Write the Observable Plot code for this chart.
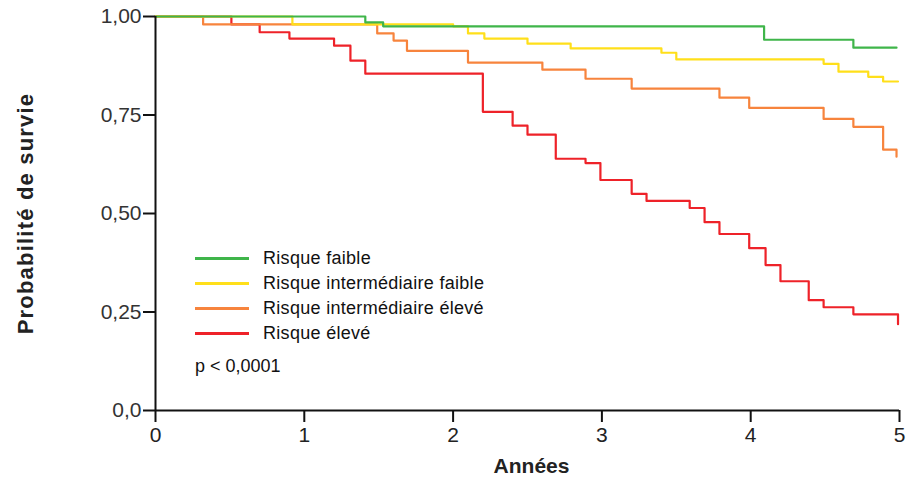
<!DOCTYPE html>
<html>
<head>
<meta charset="utf-8">
<script src="https://cdn.jsdelivr.net/npm/d3@7"></script>
<script src="https://cdn.jsdelivr.net/npm/@observablehq/plot@0.6"></script>
<style>
  html, body { margin: 0; padding: 0; background: #fff; }
  #wrap { position: relative; width: 913px; height: 488px; font-family: "Liberation Sans", Arial, sans-serif; }
  #legend { position: absolute; left: 195px; top: 246px; font-size: 18px; letter-spacing: 0.3px; color: #111; }
  .row { display: flex; align-items: center; height: 25px; }
  .sw { width: 54px; height: 3px; margin-right: 14px; }
  #pval { margin-top: 10px; letter-spacing: 0; }
</style>
</head>
<body>
<div id="wrap"></div>
<script>
// Kaplan–Meier estimates (years, survival probability)
const seriesNames = ["Risque faible", "Risque intermédiaire faible", "Risque intermédiaire élevé", "Risque élevé"];
const seriesColors = ["#3fb54a", "#ffdf1a", "#f7843d", "#ee2229"];

const tFaible = [0, 1.41, 1.53, 4.09, 4.69, 4.98];
const sFaible = [1.0, 0.985, 0.975, 0.941, 0.921, 0.921];

const tIntFaible = [0, 0.92, 2.00, 2.10, 2.21, 2.50, 2.79, 3.40, 3.50, 4.49, 4.59, 4.79, 4.89, 4.99];
const sIntFaible = [1.0, 0.980, 0.975, 0.957, 0.944, 0.931, 0.919, 0.908, 0.891, 0.880, 0.860, 0.847, 0.835, 0.835];

const tIntEleve = [0, 0.32, 1.49, 1.60, 1.69, 2.10, 2.60, 2.89, 3.20, 3.79, 3.99, 4.49, 4.69, 4.89, 4.98];
const sIntEleve = [1.0, 0.980, 0.957, 0.939, 0.913, 0.883, 0.865, 0.842, 0.817, 0.794, 0.768, 0.740, 0.720, 0.662, 0.644];

const tEleve = [0, 0.51, 0.70, 0.90, 1.20, 1.31, 1.41, 2.20, 2.40, 2.50, 2.69, 2.89, 2.99, 3.20, 3.30, 3.59, 3.69, 3.79, 3.99, 4.10, 4.20, 4.39, 4.49, 4.69, 4.99];
const sEleve = [1.0, 0.980, 0.960, 0.944, 0.926, 0.888, 0.855, 0.758, 0.723, 0.700, 0.639, 0.628, 0.585, 0.550, 0.532, 0.514, 0.478, 0.448, 0.412, 0.369, 0.328, 0.280, 0.262, 0.244, 0.219];

const xTicks = [0, 1, 2, 3, 4, 5];
const xTickLabels = ["0", "1", "2", "3", "4", "5"];
const yTicks = [0, 0.25, 0.5, 0.75, 1];
const yTickLabels = ["0,0", "0,25", "0,50", "0,75", "1,00"];

const xTitle = "Années";
const yTitle = "Probabilité de survie";
const pText = "p < 0,0001";

const allT = [tFaible, tIntFaible, tIntEleve, tEleve];
const allS = [sFaible, sIntFaible, sIntEleve, sEleve];
const rows = [];
// draw order: élevé first, faible last (on top)
[3, 2, 1, 0].forEach(k => {
  allT[k].forEach((t, i) => rows.push({t, s: allS[k][i], g: seriesNames[k]}));
});

const chart = Plot.plot({
  width: 913,
  height: 488,
  marginLeft: 155,
  marginRight: 14,
  marginTop: 16,
  marginBottom: 78,
  style: { fontFamily: "'Liberation Sans', Arial, sans-serif", fontSize: "21px", color: "#222", background: "#fff" },
  x: { domain: [0, 5] },
  y: { domain: [0, 1] },
  color: { domain: seriesNames, range: seriesColors },
  marks: [
    Plot.line(rows, { x: "t", y: "s", z: "g", stroke: "g", curve: "step-after", strokeWidth: 2.2 }),
    Plot.ruleX([0], { stroke: "#111", strokeWidth: 2 }),
    Plot.ruleY([0], { stroke: "#111", strokeWidth: 2 }),
    Plot.axisX({ ticks: xTicks, tickFormat: (d, i) => xTickLabels[i], tickSize: 12, tickPadding: 5, strokeWidth: 2, stroke: "#111", label: null, fill: "#222", fontSize: 21 }),
    Plot.axisY({ ticks: yTicks, tickFormat: (d, i) => yTickLabels[i], tickSize: 12, tickPadding: 2, strokeWidth: 2, stroke: "#111", label: null, fill: "#333", fontSize: 21 }),
    Plot.text([yTitle], { frameAnchor: "left", textAnchor: "middle", rotate: -90, dx: -130, fontWeight: "bold", fontSize: 22, fill: "#222", className: "ytitle" }),
    Plot.text([xTitle], { frameAnchor: "bottom", textAnchor: "middle", dx: 4, dy: 62, fontWeight: "bold", fontSize: 21, fill: "#222" })
  ]
});

d3.select(chart).selectAll(".ytitle text").style("letter-spacing", "1.2px");

const wrap = document.getElementById("wrap");
wrap.appendChild(chart);

const legend = document.createElement("div");
legend.id = "legend";
seriesNames.forEach((name, i) => {
  const row = document.createElement("div");
  row.className = "row";
  const sw = document.createElement("div");
  sw.className = "sw";
  sw.style.background = seriesColors[i];
  const lab = document.createElement("span");
  lab.textContent = name;
  row.appendChild(sw);
  row.appendChild(lab);
  legend.appendChild(row);
});
const p = document.createElement("div");
p.id = "pval";
p.textContent = pText;
legend.appendChild(p);
wrap.appendChild(legend);
</script>
</body>
</html>
